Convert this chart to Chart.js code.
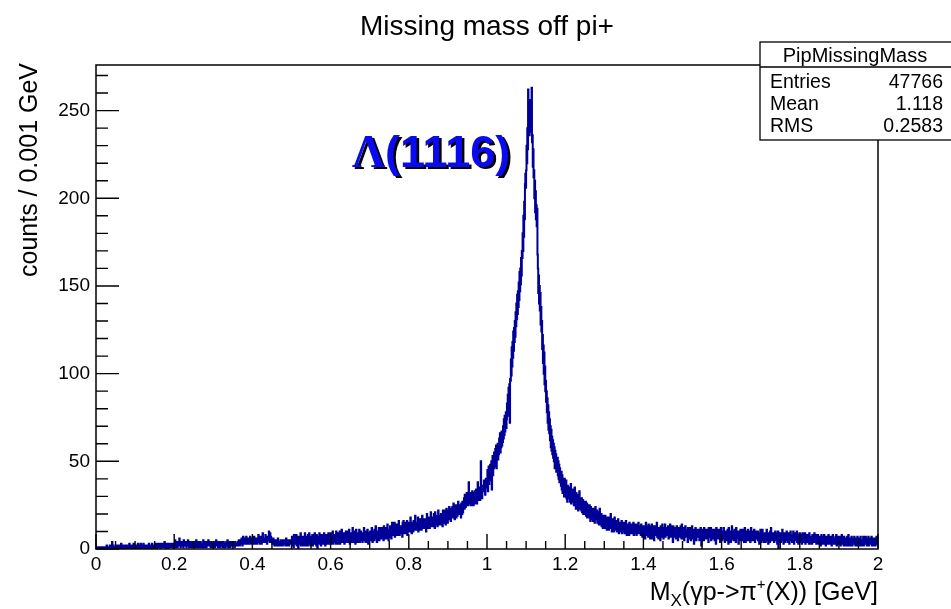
<!DOCTYPE html>
<html>
<head>
<meta charset="utf-8">
<script src="https://cdn.jsdelivr.net/npm/chart.js@4.4.1/dist/chart.umd.min.js"></script>
<style>
  html, body { margin: 0; padding: 0; background: #fff; }
  #wrap { position: relative; width: 951px; height: 609px; }
</style>
</head>
<body>
<div id="wrap"><canvas id="massChart"></canvas></div>
<script>
// ---------------------------------------------------------
// Histogram data (counts per 0.001 GeV bin, 0 -> 2 GeV)
// ---------------------------------------------------------

const X_MIN = 0;
const X_MAX = 2;
const BIN_WIDTH = 0.001;
const Y_MAX = 276;

// 0.000 - 0.499 GeV
const countsLow = [
  0,0,1,0,0,0,1,0,0,0, 0,1,0,0,1,0,0,0,1,0, 0,0,1,1,0,0,0,2,0,0, 1,0,0,1,0,2,0,1,0,1,
  0,4,1,0,2,1,0,1,1,0, 1,2,0,1,1,0,2,1,0,1, 2,0,1,1,3,0,1,2,1,0, 1,1,2,0,1,2,1,0,2,1,
  0,2,1,1,0,3,1,2,0,1, 2,1,0,2,1,1,3,0,1,2, 1,2,1,0,2,1,1,3,1,0, 2,1,0,1,3,1,2,0,1,2,
  1,3,1,2,0,2,1,1,2,0, 2,1,2,0,1,3,1,2,1,1, 0,2,1,3,1,1,2,0,2,1, 2,1,3,1,2,0,2,1,3,2,
  1,2,2,3,1,0,2,3,1,2, 3,1,2,1,2,4,1,2,0,2, 2,3,1,2,0,2,3,1,2,1, 1,2,3,1,2,2,1,3,2,0,
  3,2,5,2,1,3,2,4,1,3, 2,4,3,6,2,3,1,4,3,2, 4,2,3,1,5,3,2,4,2,3, 3,1,4,2,3,5,2,3,1,4,
  2,3,1,3,2,4,3,1,3,2, 3,2,4,1,3,2,5,2,3,1, 2,4,2,3,1,3,2,4,1,3, 3,1,3,2,5,2,3,1,4,2,
  2,3,1,4,2,3,2,5,2,3, 4,2,3,1,2,4,3,2,3,1, 2,3,4,2,1,3,2,5,3,2, 3,2,1,4,2,3,1,3,2,4,
  2,4,3,1,3,2,4,2,3,1, 3,1,2,4,2,3,5,2,1,3, 2,3,4,1,3,2,3,4,2,3, 4,2,3,2,1,4,2,3,3,2,
  3,2,4,3,2,5,3,2,4,3, 5,3,6,4,2,5,7,4,3,5, 4,6,3,5,7,4,3,6,5,4, 6,3,5,4,7,5,3,6,4,5,
  4,6,5,3,7,5,4,6,3,5, 5,3,6,4,5,8,4,5,3,6, 4,7,5,3,6,4,9,5,4,6, 6,4,5,8,4,6,5,3,7,5,
  7,5,10,6,4,9,5,7,4,6, 5,3,4,6,3,4,2,5,3,4, 3,5,2,4,3,6,4,2,4,3, 4,2,5,3,4,3,5,2,4,3,
  3,5,3,4,2,4,6,3,4,2, 4,3,5,2,4,3,4,5,3,4
];

// 0.500 - 0.999 GeV
const countsRise = [
  4,7,2,6,5,1,8,4,6,3, 6,3,8,2,5,7,4,0,6,4, 7,3,5,9,2,6,4,7,5,2, 3,7,2,5,9,4,6,2,7,5,
  5,2,8,4,6,9,3,5,2,7, 7,4,3,8,2,6,7,3,5,9, 3,7,5,2,8,4,0,6,7,3, 6,9,3,7,5,2,8,5,3,8,
  7,3,6,9,4,7,2,8,4,6, 4,8,3,6,9,3,7,5,9,4,
  6,3,9,4,7,10,3,6,4,8, 4,8,6,3,10,5,7,9,3,6, 8,4,6,10,3,7,8,4,11,6, 5,9,4,8,6,3,9,6,4,10,
  4,7,10,5,8,4,6,11,6,3, 8,5,4,9,6,8,12,5,4,7, 6,10,7,3,6,11,5,8,4,7, 9,5,8,11,4,7,6,10,5,7,
  7,4,9,6,8,12,5,7,10,4, 5,9,7,4,11,8,3,9,7,6,
  6,10,5,9,7,12,8,4,10,7, 9,5,11,7,8,13,6,9,4,10, 10,6,8,12,5,9,11,6,8,12, 8,12,6,10,9,5,13,8,10,6,
  10,7,12,6,9,14,7,10,5,11, 11,7,13,9,12,6,10,15,8,11, 12,8,10,15,7,12,9,14,8,12, 10,14,8,12,16,9,8,13,11,9,
  13,9,12,7,15,11,16,9,13,10, 11,15,9,13,10,16,8,13,14,10,
  11,15,10,14,18,11,13,9,15,13, 14,10,16,12,15,13,19,11,13,15, 15,11,13,18,10,16,13,15,11,17, 12,16,11,15,19,12,14,17,12,16,
  16,12,17,14,10,16,20,13,17,12, 14,18,15,12,17,15,21,13,17,14, 17,13,18,15,20,16,12,21,14,18, 15,19,16,13,18,22,15,14,19,16,
  18,14,20,16,19,17,13,22,17,19, 19,15,17,22,14,19,23,16,20,15,
  18,22,17,24,20,18,23,16,22,20, 20,24,18,22,26,19,23,17,25,21, 23,18,25,21,19,24,27,20,22,25, 21,25,22,18,26,23,20,27,21,24,
  26,29,23,31,27,24,30,25,32,27, 28,31,25,38,29,26,32,27,31,25, 29,26,33,27,31,25,32,29,26,33, 31,27,34,28,26,32,38,28,33,30,
  32,35,28,34,50,36,33,29,35,33, 36,33,39,34,38,31,37,40,35,39
];

// 1.000 - 1.299 GeV (Lambda peak)
const countsPeak = [
  36,45,33,42,47,37,44,39,48,41, 43,50,34,47,53,42,51,46,55,47, 48,57,50,59,46,56,52,60,51,58, 54,63,57,66,55,62,58,67,59,65,
  61,70,63,74,65,76,67,72,78,69, 74,83,76,88,80,92,85,94,72,97, 96,108,99,115,104,118,109,124,113,126,
  118,130,121,135,127,140,131,145,134,147, 138,152,142,158,147,160,151,166,156,170, 166,180,170,190,178,198,188,208,214,206,
  216,230,220,240,228,262,242,256,236,250, 244,256,238,252,263,232,236,218,228,212,
  216,200,210,192,204,188,196,184,194,168, 160,146,156,140,150,136,146,128,138,124, 130,114,122,106,116,100,112,94,104,90,
  96,84,90,78,86,72,82,68,78,66, 74,62,70,58,68,56,64,54,62,52, 60,50,58,46,56,48,54,44,52,46,
  52,42,50,40,48,38,46,40,44,36, 44,34,42,32,40,36,38,30,40,34,
  37,31,39,29,35,27,36,31,29,34, 30,35,27,33,37,26,31,28,34,27, 29,33,25,31,35,26,29,23,32,27, 27,24,31,22,29,25,33,23,28,24,
  26,22,29,21,25,28,20,27,23,21, 24,20,27,19,23,26,18,22,25,20, 22,18,25,19,16,24,21,17,23,19, 20,16,23,17,22,15,19,24,17,21,
  18,22,15,20,16,21,14,18,23,16, 17,14,20,13,19,16,12,18,14,19
];

// 1.300 - 1.999 GeV
const countsTail = [
  16,12,19,13,17,14,11,18,13,17, 15,11,18,12,16,13,20,12,15,10, 14,17,11,15,10,14,18,12,16,11, 13,16,10,15,11,17,13,9,15,12,
  15,10,14,11,16,9,13,12,15,10, 12,15,9,14,10,16,12,8,14,11, 10,14,12,8,15,11,13,9,14,10, 14,9,13,10,15,8,12,11,9,14,
  11,13,8,14,9,13,10,15,9,11, 9,13,11,8,14,10,12,7,11,13,
  11,7,13,10,6,12,15,8,10,13, 9,12,7,14,8,11,13,6,10,12, 10,14,6,11,8,13,10,5,12,9, 13,8,11,9,15,7,12,10,6,11,
  8,12,10,5,13,9,7,12,14,9, 11,6,12,8,10,14,7,11,9,12, 12,8,10,13,6,11,12,8,14,9, 7,11,9,13,10,4,13,8,11,7,
  10,8,12,6,11,13,8,10,5,12, 9,12,7,10,8,13,10,6,14,9,
  10,6,9,12,5,10,8,13,7,9, 7,11,9,4,12,8,6,10,9,12, 9,5,11,7,13,8,10,6,9,3, 11,8,6,12,9,5,10,8,7,11,
  7,10,9,5,11,8,12,9,2,9, 9,6,11,8,5,12,7,9,11,6, 6,10,7,11,8,9,4,12,7,10, 10,7,12,5,9,11,6,9,7,11,
  7,11,5,9,8,3,12,7,10,6, 9,6,11,7,10,8,4,10,12,7,
  8,5,10,6,9,12,6,8,4,10, 6,10,5,8,7,11,8,3,12,7, 9,6,10,4,8,7,13,8,6,10, 5,9,7,11,6,8,4,12,8,6,
  10,6,8,3,10,7,9,5,11,6, 7,9,5,11,8,6,10,4,8,12, 8,4,10,7,5,9,6,11,5,8, 6,10,8,4,9,12,7,8,5,10,
  5,8,7,11,6,4,9,7,10,6, 9,6,10,5,8,7,3,9,7,11,
  7,4,9,6,11,5,7,9,4,8, 9,6,4,8,7,11,5,7,9,3, 5,9,7,4,10,6,12,5,7,8, 8,5,9,7,4,8,6,10,5,7,
  6,9,3,7,10,0,7,4,9,6, 7,4,9,6,8,11,5,7,3,9, 5,8,4,9,6,7,10,5,8,4, 9,5,7,3,8,6,10,7,5,8,
  4,8,6,10,5,3,8,6,9,5, 7,5,10,4,8,6,3,8,6,9,
  6,9,4,7,5,3,8,6,9,4, 7,4,6,9,3,7,5,4,8,6, 4,8,6,3,9,5,4,7,6,3, 6,3,8,5,4,7,6,9,4,6,
  8,5,3,7,6,4,8,5,3,7, 4,7,6,2,6,8,4,5,7,3, 6,3,8,5,4,6,2,7,4,6, 4,6,3,8,5,4,7,3,6,5,
  6,2,7,4,8,3,6,4,5,3, 5,7,3,8,2,6,4,7,3,6,
  5,3,7,4,2,6,5,8,3,5, 6,4,2,7,5,3,6,4,2,6, 3,7,5,2,8,4,3,5,6,2, 5,3,7,4,2,5,6,3,4,7,
  3,5,2,6,5,3,4,7,2,5, 4,6,3,5,2,7,3,5,4,2, 3,5,7,2,5,3,6,4,7,3, 5,2,6,3,5,7,2,5,4,6,
  3,6,4,7,2,5,3,6,2,4, 6,3,5,2,6,4,7,3,5,3
];

// Stats box and labels
const HIST_NAME = "PipMissingMass";
const STAT_LABELS = ["Entries", "Mean", "RMS"];
const STAT_VALUES = ["47766", "1.118", "0.2583"];
const TITLE = "Missing mass off pi+";
const Y_TITLE = "counts / 0.001 GeV";
const PEAK_LABEL = { greek: "\u039B", rest: "(1116)", x: 0.655, y: 218 };

const X_MAJOR = 0.2, X_MINOR = 0.05;
const Y_MAJOR = 50, Y_MINOR = 10;

const SANS = '"Liberation Sans", Arimo, Helvetica, Arial, sans-serif';
const SERIF = '"Liberation Serif", "DejaVu Serif", "Times New Roman", serif';

const allCounts = countsLow.concat(countsRise, countsPeak, countsTail);
const points = allCounts.map((c, i) => ({ x: X_MIN + (i + 0.5) * BIN_WIDTH, y: c }));

// ---------------------------------------------------------
// ROOT-style frame, ticks, titles, stats box
// ---------------------------------------------------------

function font(size, weight, family) {
  return (weight || "normal") + " " + size + "px " + (family || SANS);
}

const rootDecor = {
  id: "rootDecor",
  afterDraw(chart) {
    const ctx = chart.ctx;
    const { left, right, top, bottom } = chart.chartArea;
    const xs = chart.scales.x;
    const ys = chart.scales.y;

    ctx.save();
    ctx.strokeStyle = "#000";
    ctx.fillStyle = "#000";

    // frame
    ctx.lineWidth = 1.5;
    ctx.strokeRect(left, top, right - left, bottom - top);

    // inward ticks
    ctx.lineWidth = 1.4;
    ctx.beginPath();
    const nx = Math.round((X_MAX - X_MIN) / X_MINOR);
    const perMajor = Math.round(X_MAJOR / X_MINOR);
    for (let i = 0; i <= nx; i++) {
      const px = xs.getPixelForValue(X_MIN + i * X_MINOR);
      const len = (i % perMajor === 0) ? 15 : 8;
      ctx.moveTo(px, bottom);
      ctx.lineTo(px, bottom - len);
    }
    for (let v = 0; v <= Y_MAX; v += Y_MINOR) {
      const py = ys.getPixelForValue(v);
      const len = (v % Y_MAJOR === 0) ? 23 : 12;
      ctx.moveTo(left, py);
      ctx.lineTo(left + len, py);
    }
    ctx.stroke();

    // title
    ctx.font = font(28);
    ctx.textAlign = "center";
    ctx.textBaseline = "alphabetic";
    ctx.fillText(TITLE, 487, 35);

    // y title (rotated, aligned to top of axis)
    ctx.save();
    ctx.translate(37, top - 2);
    ctx.rotate(-Math.PI / 2);
    ctx.font = font(25);
    ctx.textAlign = "right";
    ctx.fillText(Y_TITLE, 0, 0);
    ctx.restore();

    // x title with sub/superscripts, right aligned
    const parts = [
      { t: "M", s: 25, dy: 0 },
      { t: "X", s: 17, dy: 6 },
      { t: "(\u03B3p->\u03C0", s: 25, dy: 0 },
      { t: "+", s: 15, dy: -11 },
      { t: "(X)) [GeV]", s: 25, dy: 0 }
    ];
    let total = 0;
    parts.forEach(p => { ctx.font = font(p.s); p.w = ctx.measureText(p.t).width; total += p.w; });
    let xp = right - total;
    ctx.textAlign = "left";
    parts.forEach(p => {
      ctx.font = font(p.s);
      ctx.fillText(p.t, xp, 600 + p.dy);
      xp += p.w;
    });

    // stats box
    const bx = 760, by = 42, bw = 200, bh = 98;
    ctx.fillStyle = "#fff";
    ctx.fillRect(bx, by, bw, bh);
    ctx.lineWidth = 1.3;
    ctx.strokeRect(bx, by, bw, bh);
    ctx.beginPath();
    ctx.moveTo(bx, 67);
    ctx.lineTo(bx + bw, 67);
    ctx.stroke();
    ctx.fillStyle = "#000";
    ctx.font = font(20);
    ctx.textAlign = "center";
    ctx.fillText(HIST_NAME, 855, 62);
    ctx.font = font(19.5);
    STAT_LABELS.forEach((lab, i) => {
      const yb = 87.5 + i * 22;
      ctx.textAlign = "left";
      ctx.fillText(lab, 770, yb);
      ctx.textAlign = "right";
      ctx.fillText(STAT_VALUES[i], 943, yb);
    });

    // Lambda(1116) label with shadow
    const lx = xs.getPixelForValue(PEAK_LABEL.x);
    const ly = ys.getPixelForValue(PEAK_LABEL.y);
    ctx.textAlign = "left";
    ctx.font = font(46, "bold", SERIF);
    const gw = ctx.measureText(PEAK_LABEL.greek).width;
    [["#000", 2.5], ["#0a0af0", 0]].forEach(([col, off]) => {
      ctx.fillStyle = col;
      ctx.font = font(46, "bold", SERIF);
      ctx.fillText(PEAK_LABEL.greek, lx + off, ly + off);
      ctx.font = font(45, "bold");
      ctx.fillText(PEAK_LABEL.rest, lx + gw + off, ly + off);
    });

    ctx.restore();
  }
};

// ---------------------------------------------------------
// Chart
// ---------------------------------------------------------

new Chart(document.getElementById("massChart"), {
  type: "line",
  data: {
    datasets: [{
      label: HIST_NAME,
      data: points,
      parsing: false,
      borderColor: "#000099",
      borderWidth: 2,
      pointRadius: 0,
      stepped: "middle",
      fill: false
    }]
  },
  options: {
    responsive: true,
    maintainAspectRatio: false,
    animation: false,
    events: [],
    layout: { padding: { top: 65, right: 73, left: 0, bottom: 0 } },
    plugins: {
      legend: { display: false },
      tooltip: { enabled: false },
      title: { display: false }
    },
    scales: {
      x: {
        type: "linear",
        min: X_MIN,
        max: X_MAX,
        grid: { display: false, drawTicks: false },
        border: { display: false },
        ticks: {
          stepSize: X_MAJOR,
          autoSkip: false,
          maxRotation: 0,
          padding: 4,
          color: "#000",
          font: { family: SANS, size: 19 },
          callback: v => String(+Number(v).toFixed(1))
        },
        afterFit: s => { s.height = 60; s.paddingLeft = 0; s.paddingRight = 0; }
      },
      y: {
        min: 0,
        max: Y_MAX,
        grid: { display: false, drawTicks: false },
        border: { display: false },
        ticks: {
          stepSize: Y_MAJOR,
          includeBounds: false,
          padding: 6,
          color: "#000",
          font: { family: SANS, size: 19 },
          callback: v => (v % Y_MAJOR === 0 ? String(v) : "")
        },
        afterFit: s => { s.width = 96; s.paddingTop = 0; s.paddingBottom = 0; }
      }
    }
  },
  plugins: [rootDecor]
});
</script>
</body>
</html>
